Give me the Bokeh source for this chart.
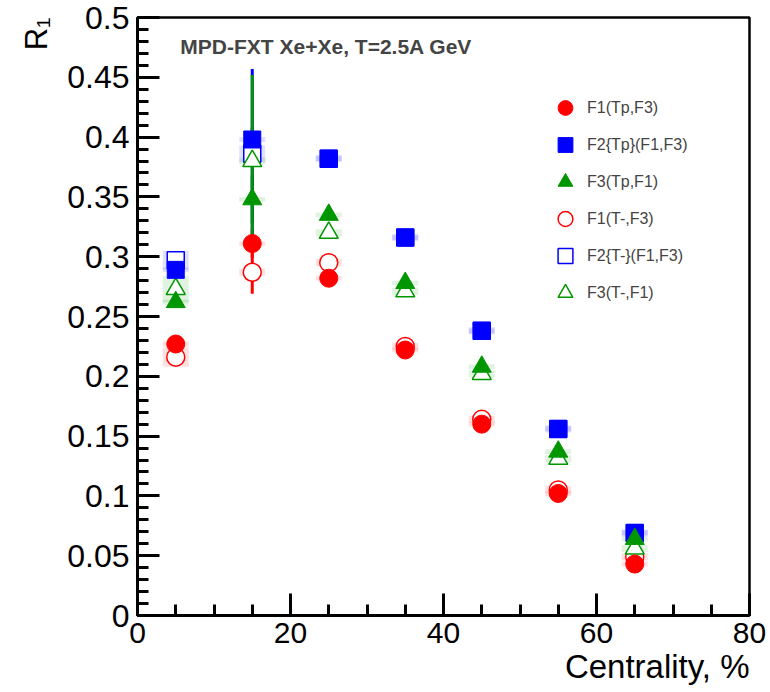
import math
from bokeh.plotting import figure
from bokeh.models import (Range1d, SingleIntervalTicker, CustomJSTickFormatter,
                          Legend, LegendItem, Label, Title)
from bokeh.embed import file_html
from bokeh.resources import INLINE

# ---------------- data ----------------
centrality = [5, 15, 25, 35, 45, 55, 65]

f1_tp = [0.227, 0.311, 0.282, 0.222, 0.160, 0.102, 0.043]
f2_tp = [0.289, 0.398, 0.382, 0.316, 0.238, 0.156, 0.069]
f3_tp = [0.262, 0.348, 0.335, 0.278, 0.208, 0.137, 0.064]
f1_tm = [0.216, 0.287, 0.295, 0.225, 0.164, 0.105, 0.049]
f2_tm = [0.297, 0.386, 0.382, 0.316, 0.238, 0.156, 0.069]
f3_tm = [0.273, 0.380, 0.320, 0.271, 0.202, 0.131, 0.056]

f1_tp_err = [0.003, 0.012, 0.003, 0.003, 0.002, 0.002, 0.002]
f2_tp_err = [0.003, 0.010, 0.003, 0.003, 0.002, 0.002, 0.002]
f3_tp_err = [0.003, 0.020, 0.003, 0.003, 0.002, 0.002, 0.002]
f1_tm_err = [0.003, 0.018, 0.003, 0.003, 0.002, 0.002, 0.002]
f2_tm_err = [0.003, 0.071, 0.003, 0.003, 0.002, 0.002, 0.002]
f3_tm_err = [0.003, 0.072, 0.003, 0.003, 0.002, 0.002, 0.002]

f1_tm_sys = [0.008, 0.003, 0.003, 0.003, 0.003, 0.003, 0.003]
f2_tm_sys = [0.008, 0.007, 0.003, 0.003, 0.003, 0.003, 0.003]
f3_tm_sys = [0.011, 0.003, 0.003, 0.003, 0.003, 0.003, 0.003]
tp_sys = [0.002, 0.002, 0.002, 0.002, 0.002, 0.002, 0.002]

labels = ["F1(Tp,F3)", "F2{Tp}(F1,F3)", "F3(Tp,F1)",
          "F1(T-,F3)", "F2{T-}(F1,F3)", "F3(T-,F1)"]
x_title = "Centrality, %"
y_title = "R\u2081"
x_ticks_interval = 20
y_ticks_interval = 0.05

RED, BLUE, GREEN = "#ff0000", "#0000ff", "#009600"
FONT = "Liberation Sans"

p = figure(width=770, height=692, output_backend="svg", toolbar_location=None,
           x_range=Range1d(0, 80), y_range=Range1d(0, 0.5),
           min_border_left=137, min_border_right=21,
           min_border_top=17, min_border_bottom=77)
p.background_fill_color = "white"
p.border_fill_color = "white"
p.xgrid.visible = False
p.ygrid.visible = False
p.outline_line_color = "black"
p.outline_line_width = 2.5

# axes
for ax in (p.xaxis[0], p.yaxis[0]):
    ax.axis_line_width = 3
    ax.major_tick_line_width = 3
    ax.minor_tick_line_width = 3
    ax.major_tick_in = 22
    ax.major_tick_out = 0
    ax.minor_tick_in = 11
    ax.minor_tick_out = 0
    ax.major_label_text_font = FONT
    ax.major_label_text_color = "black"
p.xaxis.ticker = SingleIntervalTicker(interval=x_ticks_interval, num_minor_ticks=4)
p.yaxis.ticker = SingleIntervalTicker(interval=y_ticks_interval, num_minor_ticks=5)
p.xaxis.major_label_text_font_size = "30px"
p.yaxis.major_label_text_font_size = "32px"
p.xaxis.major_label_standoff = 7
p.yaxis.major_label_standoff = 8
p.yaxis.formatter = CustomJSTickFormatter(code="return (Math.round(tick*100)/100).toString();")

p.add_layout(Title(text=x_title, align="right", text_font=FONT, text_font_size="33px",
                   text_font_style="normal", text_color="black", standoff=1), "below")
p.add_layout(Title(text=y_title, align="right", text_font=FONT, text_font_size="31px",
                   text_font_style="normal", text_color="black", standoff=22), "left")

series = [
    (f1_tp, f1_tp_err, tp_sys, RED, "circle", True, 18),
    (f2_tp, f2_tp_err, tp_sys, BLUE, "square", True, 17),
    (f3_tp, f3_tp_err, tp_sys, GREEN, "triangle", True, 19),
    (f1_tm, f1_tm_err, f1_tm_sys, RED, "circle", False, 18),
    (f2_tm, f2_tm_err, f2_tm_sys, BLUE, "square", False, 17),
    (f3_tm, f3_tm_err, f3_tm_sys, GREEN, "triangle", False, 19),
]

# systematic boxes (faint)
for vals, err, sys, col, mk, filled, sz in series:
    p.rect(x=centrality, y=vals, width=3.4, height=[2 * s for s in sys],
           fill_color=col, fill_alpha=0.12, line_alpha=0)

# error bars
for vals, err, sys, col, mk, filled, sz in series:
    p.segment(x0=centrality, y0=[v - e for v, e in zip(vals, err)],
              x1=centrality, y1=[v + e for v, e in zip(vals, err)],
              line_color=col, line_width=3)

renderers = {}
# open markers first, then filled on top
order = [3, 4, 5, 0, 1, 2]
for i in order:
    vals, err, sys, col, mk, filled, sz = series[i]
    if filled:
        r = p.scatter(x=centrality, y=vals, marker=mk, size=sz,
                      fill_color=col, line_color=col, line_width=1)
    else:
        r = p.scatter(x=centrality, y=vals, marker=mk, size=sz,
                      fill_color="white", line_color=col, line_width=1.5)
    renderers[i] = r

legend = Legend(items=[LegendItem(label=labels[i], renderers=[renderers[i]]) for i in range(6)],
                location=(408, 304), glyph_height=37, glyph_width=40, spacing=0,
                padding=0, margin=0, label_standoff=2, label_height=20,
                label_text_font=FONT, label_text_font_size="16px",
                border_line_alpha=0, background_fill_alpha=0)
p.add_layout(legend)

p.add_layout(Label(x=5.6, y=0.476, text="MPD-FXT Xe+Xe, T=2.5A GeV",
                   text_font=FONT, text_font_size="21px", text_font_style="bold",
                   text_baseline="alphabetic", text_align="left"))

open("out.html", "w").write(file_html(p, INLINE))
